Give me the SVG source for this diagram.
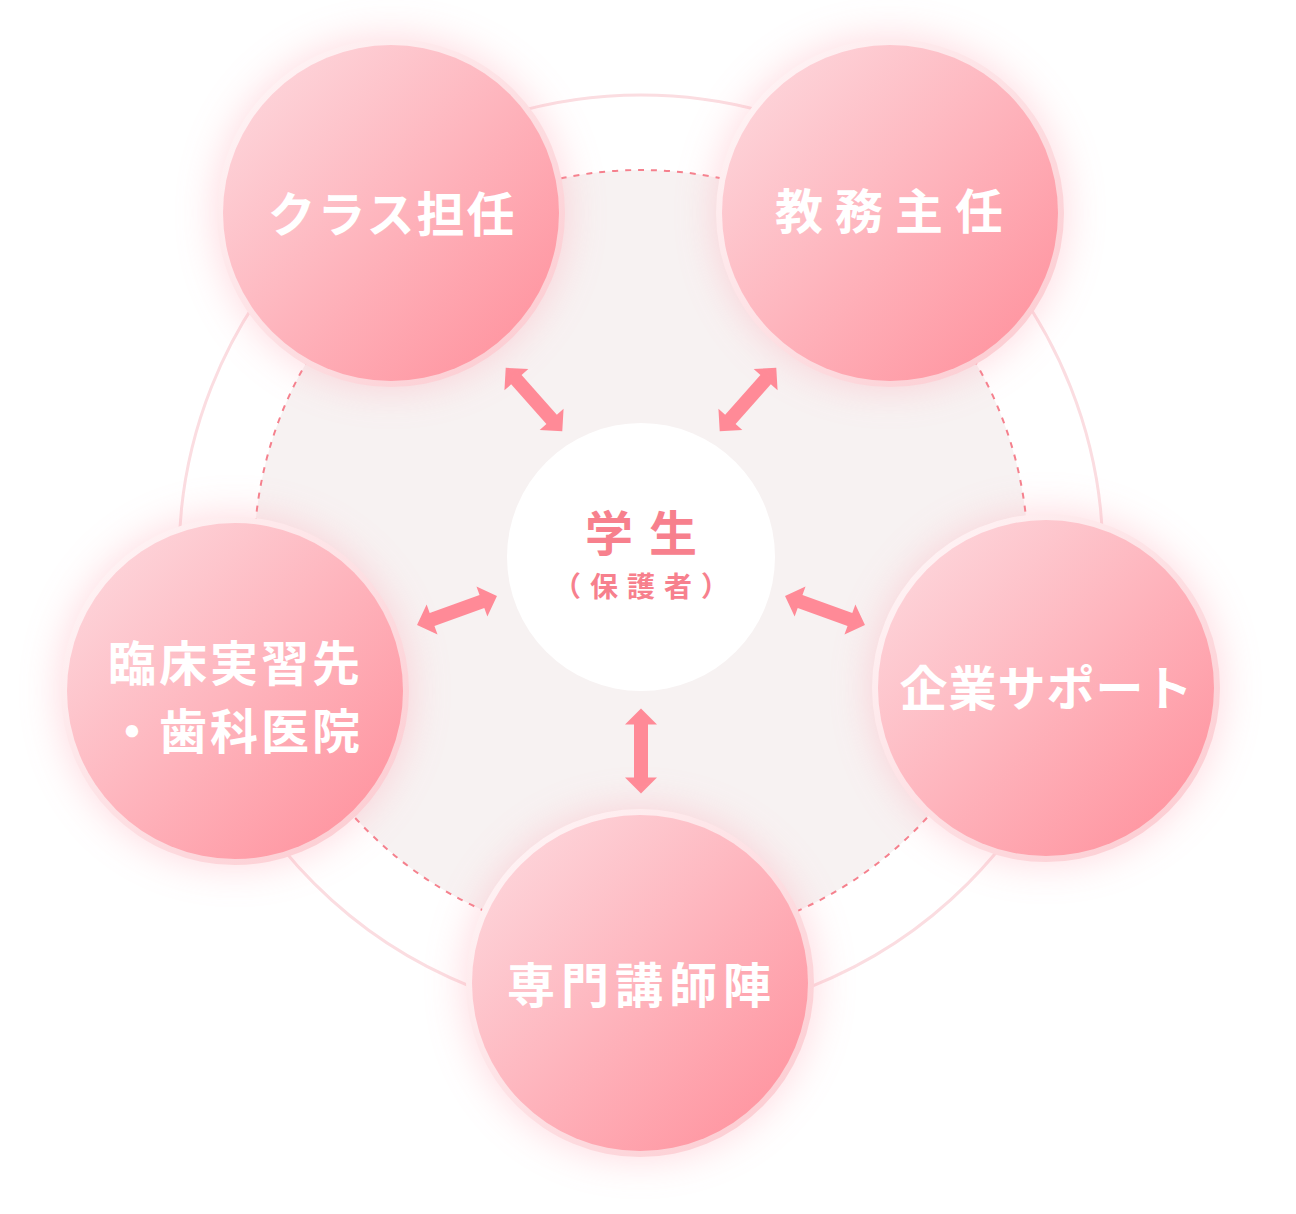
<svg xmlns="http://www.w3.org/2000/svg" width="1296" height="1214" viewBox="0 0 1296 1214">
  <defs>
    <linearGradient id="nodeFill" x1="0" y1="0" x2="1" y2="1">
      <stop offset="0" stop-color="#fddce1"/>
      <stop offset="1" stop-color="#ff8d99"/>
    </linearGradient>
    <linearGradient id="ringFill" x1="0" y1="0" x2="1" y2="1">
      <stop offset="0" stop-color="#fff8f9"/>
      <stop offset="1" stop-color="#fcc8ce"/>
    </linearGradient>
    <filter id="glow" x="-50%" y="-50%" width="200%" height="200%">
      <feGaussianBlur stdDeviation="22"/>
    </filter>
    <path id="dblArrow" d="M-42.5,0 L-26.5,-16 L-26.5,-7 L26.5,-7 L26.5,-16 L42.5,0 L26.5,16 L26.5,7 L-26.5,7 L-26.5,16 Z"/>
    <style>
      .glow { fill: #ff9aa8; opacity: 0.42; filter: url(#glow); }
      .ring { fill: url(#ringFill); }
      .disc { fill: url(#nodeFill); }
      .label { font-family: "Noto Sans CJK JP", "Noto Sans", sans-serif; font-weight: 700; font-size: 48px; fill: #ffffff; text-anchor: middle; }
      .center-main { font-family: "Noto Sans CJK JP", "Noto Sans", sans-serif; font-weight: 700; font-size: 48px; fill: #f7808d; text-anchor: middle; letter-spacing: 16px; }
      .center-sub { font-family: "Noto Sans CJK JP", "Noto Sans", sans-serif; font-weight: 700; font-size: 28px; fill: #f7808d; text-anchor: middle; letter-spacing: 9px; }
      .arrow { fill: #ff8a97; }
    </style>
  </defs>

  <rect width="1296" height="1214" fill="#ffffff"/>

  <!-- background rings -->
  <g id="background">
    <circle cx="641" cy="557" r="462" fill="#ffffff" stroke="#fbdde1" stroke-width="3"/>
    <circle cx="641" cy="557" r="387" fill="#f7f2f2" stroke="#f5808d" stroke-width="2" stroke-dasharray="6 7"/>
  </g>

  <!-- center node -->
  <g id="node-student">
    <circle cx="641" cy="557" r="134" fill="#ffffff"/>
    <text class="center-main" x="649" y="551">学生</text>
    <text class="center-sub" x="645.5" y="597">（保護者）</text>
  </g>

  <!-- connectors -->
  <g id="connectors">
    <use href="#dblArrow" class="arrow" transform="translate(534 399.5) rotate(48.3)"/>
    <use href="#dblArrow" class="arrow" transform="translate(748 399.5) rotate(-48.3)"/>
    <use href="#dblArrow" class="arrow" transform="translate(457 610.5) rotate(-19.9)"/>
    <use href="#dblArrow" class="arrow" transform="translate(825 610.5) rotate(19.9)"/>
    <use href="#dblArrow" class="arrow" transform="translate(641 751) rotate(90)"/>
  </g>

  <!-- outer nodes -->
  <g id="node-class-teacher">
    <circle class="glow" cx="391" cy="213" r="172"/>
    <circle class="ring" cx="391" cy="213" r="174"/>
    <circle class="disc" cx="391" cy="213" r="168"/>
    <text class="label" x="392" y="232" letter-spacing="2">クラス担任</text>
  </g>

  <g id="node-academic-head">
    <circle class="glow" cx="890" cy="213" r="172"/>
    <circle class="ring" cx="890" cy="213" r="174"/>
    <circle class="disc" cx="890" cy="213" r="168"/>
    <text class="label" x="895" y="229" letter-spacing="12">教務主任</text>
  </g>

  <g id="node-company-support">
    <circle class="glow" cx="1046" cy="688" r="172"/>
    <circle class="ring" cx="1046" cy="688" r="174"/>
    <circle class="disc" cx="1046" cy="688" r="168"/>
    <text class="label" x="1046.5" y="706" letter-spacing="1">企業サポート</text>
  </g>

  <g id="node-lecturers">
    <circle class="glow" cx="640" cy="983" r="172"/>
    <circle class="ring" cx="640" cy="983" r="174"/>
    <circle class="disc" cx="640" cy="983" r="168"/>
    <text class="label" x="642" y="1003" letter-spacing="6">専門講師陣</text>
  </g>

  <g id="node-clinical">
    <circle class="glow" cx="235" cy="691" r="172"/>
    <circle class="ring" cx="235" cy="691" r="174"/>
    <circle class="disc" cx="235" cy="691" r="168"/>
    <text class="label" x="235.5" y="681" letter-spacing="3">臨床実習先</text>
    <text class="label" x="235.5" y="749" letter-spacing="3">・歯科医院</text>
  </g>
</svg>
